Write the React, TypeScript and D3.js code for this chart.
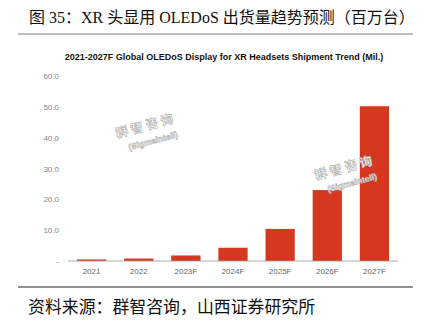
import React from "react";
import * as d3 from "d3";

const categories = ["2021", "2022", "2023F", "2024F", "2025F", "2026F", "2027F"];
const values = [0.5, 0.8, 1.8, 4.3, 10.4, 23.0, 50.2];
const yTicks = [0, 10, 20, 30, 40, 50, 60];
const titleText = "图 35：XR 头显用 OLEDoS 出货量趋势预测（百万台）";
const subtitleText = "2021-2027F Global OLEDoS Display for XR Headsets Shipment Trend (Mil.)";
const sourceText = "资料来源：群智咨询，山西证券研究所";

export default function App() {
  const W = 428, H = 328;
  const x = d3.scaleBand().domain(categories).range([68, 398]).paddingInner(0.38).paddingOuter(0.19);
  const y = d3.scaleLinear().domain([0, 60]).range([261, 76]);
  const wm = (cx: number, cy: number) => (
    <g transform={`translate(${cx},${cy}) rotate(-15)`} fill="#fff" stroke="#b0b0b0" strokeWidth={0.6}>
      <text x={0} y={4} textAnchor="middle" fontSize={12.5} fontWeight="bold" fontFamily="Noto Sans CJK SC" letterSpacing={3}>群智咨询</text>
      <text x={3} y={19} textAnchor="middle" fontSize={8.5} fontWeight="bold" fontFamily="Liberation Sans">(Sigmaintell)</text>
    </g>
  );
  return (
    <svg width={W} height={H} style={{ position: "absolute", left: 0, top: 0, background: "#fff" }}>
      <rect width={W} height={H} fill="#fff" />
      <text x={29} y={23} fontSize={16} fontFamily="'Liberation Serif', 'Noto Sans CJK SC'" fill="#111">{titleText}</text>
      <line x1={18} x2={413} y1={34} y2={34} stroke="#808080" strokeWidth={1.2} />
      <text x={224} y={60} textAnchor="middle" fontSize={9} fontWeight="bold" fontFamily="'Liberation Sans', Arial" fill="#111">{subtitleText}</text>
      {yTicks.map(t => (
        <text key={t} x={59} y={y(t) + 3} textAnchor="end" fontSize={8} fontFamily="'Liberation Sans', Arial" fill="#888">{t === 0 ? "-" : d3.format(".1f")(t)}</text>
      ))}
      {categories.map((c, i) => (
        <rect key={c} x={x(c)} y={y(values[i])} width={x.bandwidth()} height={y(0) - y(values[i])} fill="#d5381f" />
      ))}
      <line x1={68} x2={398} y1={y(0)} y2={y(0)} stroke="#999" strokeWidth={0.8} />
      {categories.map(c => (
        <text key={c} x={(x(c) as number) + x.bandwidth() / 2} y={274} textAnchor="middle" fontSize={8} fontFamily="'Liberation Sans', Arial" fill="#666">{c}</text>
      ))}
      {wm(146, 126)}
      {wm(345, 168)}
      <line x1={18} x2={413} y1={287} y2={287} stroke="#222" strokeWidth={1} />
      <text x={28} y={313} fontSize={16.9} fontFamily="'Noto Sans CJK SC'" fill="#111">{sourceText}</text>
    </svg>
  );
}
